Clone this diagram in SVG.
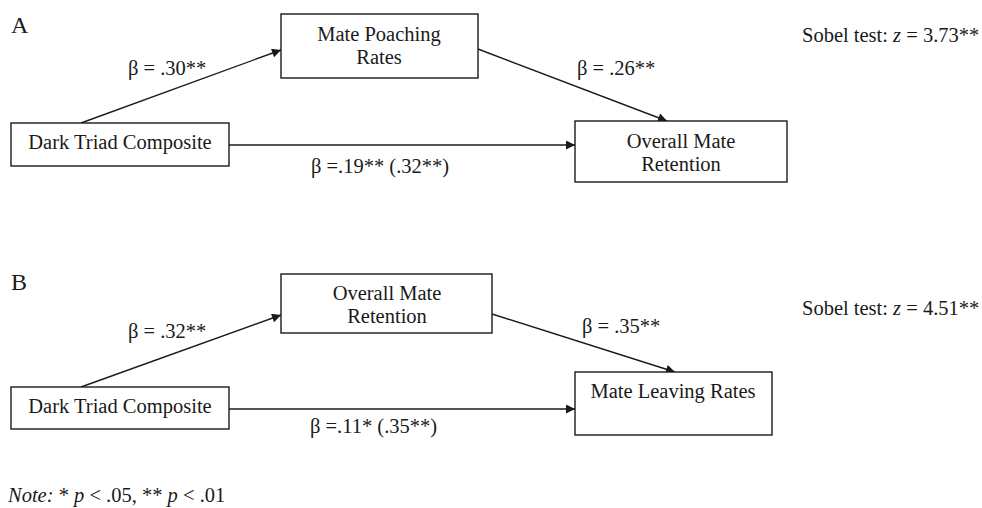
<svg xmlns="http://www.w3.org/2000/svg" width="982" height="508" viewBox="0 0 982 508">
<defs>
<style>
.t{font-family:"Liberation Serif","Times New Roman",serif;font-size:20.5px;fill:#1a1a1a}
.c{text-anchor:middle}
.box{fill:#fff;stroke:#1a1a1a;stroke-width:1.4}
.ln{stroke:#1a1a1a;stroke-width:1.4;fill:none;marker-end:url(#ah)}
</style>
<marker id="ah" viewBox="0 0 10 10" refX="10" refY="5" markerWidth="11" markerHeight="9" markerUnits="userSpaceOnUse" orient="auto">
<path d="M0,0 L10,5 L0,10 z" fill="#1a1a1a"/>
</marker>
</defs>
<rect width="982" height="508" fill="#fff"/>
<text class="t" x="11" y="33" style="font-size:24px">A</text>
<text class="t" x="11" y="290" style="font-size:24px">B</text>
<g id="connectors">
<line class="ln" x1="81" y1="123" x2="281" y2="50"/>
<line class="ln" x1="478" y1="49" x2="667" y2="121"/>
<line class="ln" x1="229" y1="145" x2="575" y2="145"/>
<line class="ln" x1="81" y1="387" x2="281" y2="315"/>
<line class="ln" x1="492" y1="314" x2="675" y2="372"/>
<line class="ln" x1="229" y1="409" x2="575" y2="409"/>
</g>
<g id="labels">
<text class="t" x="128" y="75">β = .30**</text>
<text class="t" x="577" y="75">β = .26**</text>
<text class="t" x="311" y="173">β =.19** (.32**)</text>
<text class="t" x="802" y="42">Sobel test: <tspan font-style="italic">z</tspan> = 3.73**</text>
<text class="t" x="128" y="338">β = .32**</text>
<text class="t" x="582" y="333">β = .35**</text>
<text class="t" x="310" y="433">β =.11* (.35**)</text>
<text class="t" x="802" y="315">Sobel test: <tspan font-style="italic">z</tspan> = 4.51**</text>
<text class="t" x="8" y="502"><tspan font-style="italic">Note:</tspan> * <tspan font-style="italic">p</tspan> &lt; .05, ** <tspan font-style="italic">p</tspan> &lt; .01</text>
</g>
<g id="nodeA1">
<rect class="box" x="11" y="123" width="218" height="43"/>
<text class="t c" x="120" y="149">Dark Triad Composite</text>
</g>
<g id="nodeA2">
<rect class="box" x="281" y="14" width="197" height="64"/>
<text class="t c" x="379" y="41">Mate Poaching</text>
<text class="t c" x="379" y="64">Rates</text>
</g>
<g id="nodeA3">
<rect class="box" x="575" y="121" width="212" height="61"/>
<text class="t c" x="681" y="148">Overall Mate</text>
<text class="t c" x="681" y="171">Retention</text>
</g>
<g id="nodeB1">
<rect class="box" x="11" y="387" width="218" height="42"/>
<text class="t c" x="120" y="413">Dark Triad Composite</text>
</g>
<g id="nodeB2">
<rect class="box" x="281" y="274" width="211" height="59"/>
<text class="t c" x="387" y="300">Overall Mate</text>
<text class="t c" x="387" y="323">Retention</text>
</g>
<g id="nodeB3">
<rect class="box" x="575" y="372" width="197" height="63"/>
<text class="t c" x="673" y="398">Mate Leaving Rates</text>
</g>
</svg>
